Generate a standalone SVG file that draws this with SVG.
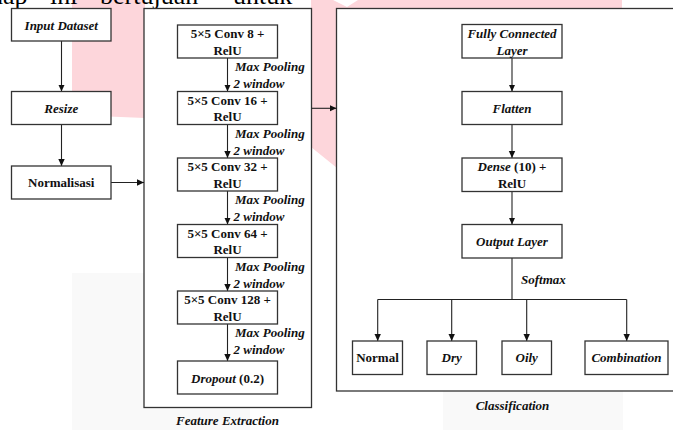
<svg xmlns="http://www.w3.org/2000/svg" width="673" height="430" viewBox="0 0 673 430">
<defs>
<marker id="arr" markerWidth="8" markerHeight="8" refX="7" refY="4" orient="auto" markerUnits="userSpaceOnUse">
<path d="M0,0.8 L7,4 L0,7.2 Z" fill="#111"/>
</marker>
<style>
.box{fill:#fff;stroke:#333;stroke-width:1.3}
.cont{fill:#fff;stroke:#333;stroke-width:1.3}
.t{font-family:"Liberation Serif","Times New Roman",Times,serif;font-size:13px;font-weight:bold;fill:#111;text-anchor:middle}
.i{font-style:italic}
.lbl{font-family:"Liberation Serif","Times New Roman",Times,serif;font-size:13px;font-weight:bold;font-style:italic;fill:#111}
.ln{fill:none;stroke:#222;stroke-width:1.1}
.top{font-family:"Liberation Serif","Times New Roman",Times,serif;font-size:26px;fill:#000}
</style>
</defs>
<rect x="0" y="0" width="673" height="430" fill="#fff"/>
<!-- background watermark -->
<g id="watermark">
<rect x="72" y="273" width="178" height="157" fill="#f9f9f9"/>
<rect x="443" y="391" width="180" height="39" fill="#f9f9f9"/>
<polygon points="72,0 622,0 622,12 337,168 311,147 145,118 72,115" fill="#fdd6db"/>
<polygon points="333,0 358,0 347,7" fill="#fff"/>
<rect x="145" y="0" width="166" height="9" fill="#fff"/>
</g>
<text class="top" y="3.5"><tspan x="-10">hap</tspan><tspan x="50">ini</tspan><tspan x="100">bertujuan</tspan><tspan x="233">untuk</tspan></text>

<!-- containers -->
<g id="feature-extraction">
<rect class="cont" x="144" y="8.5" width="167.5" height="399"/>
<text class="t i" x="227.5" y="425">Feature Extraction</text>
</g>
<g id="classification">
<rect class="cont" x="336.5" y="8.5" width="345" height="382.5"/>
<text class="t i" x="512.5" y="409.5">Classification</text>
</g>

<!-- connectors -->
<g id="connectors">
<line class="ln" x1="61.5" y1="41" x2="61.5" y2="91.5" marker-end="url(#arr)"/>
<line class="ln" x1="61.5" y1="124.5" x2="61.5" y2="166" marker-end="url(#arr)"/>
<line class="ln" x1="111" y1="182.5" x2="144" y2="182.5" marker-end="url(#arr)"/>
<line class="ln" x1="311.5" y1="108.3" x2="336.5" y2="108.3" marker-end="url(#arr)"/>
<line class="ln" x1="227.5" y1="58" x2="227.5" y2="91.5" marker-end="url(#arr)"/>
<line class="ln" x1="227.5" y1="124.5" x2="227.5" y2="158" marker-end="url(#arr)"/>
<line class="ln" x1="227.5" y1="191" x2="227.5" y2="224.5" marker-end="url(#arr)"/>
<line class="ln" x1="227.5" y1="257.5" x2="227.5" y2="291" marker-end="url(#arr)"/>
<line class="ln" x1="227.5" y1="324" x2="227.5" y2="361" marker-end="url(#arr)"/>
<line class="ln" x1="512" y1="58" x2="512" y2="91.5" marker-end="url(#arr)"/>
<line class="ln" x1="512" y1="124.5" x2="512" y2="158" marker-end="url(#arr)"/>
<line class="ln" x1="512" y1="191.5" x2="512" y2="224.5" marker-end="url(#arr)"/>
<polyline class="ln" points="512,258 512,299.5"/>
<polyline class="ln" points="377.7,299.5 626.7,299.5"/>
<line class="ln" x1="377.7" y1="299.5" x2="377.7" y2="341" marker-end="url(#arr)"/>
<line class="ln" x1="451.7" y1="299.5" x2="451.7" y2="341" marker-end="url(#arr)"/>
<line class="ln" x1="526.7" y1="299.5" x2="526.7" y2="341" marker-end="url(#arr)"/>
<line class="ln" x1="626.7" y1="299.5" x2="626.7" y2="341" marker-end="url(#arr)"/>
<text class="lbl" x="235" y="71">Max Pooling</text>
<text class="lbl" x="233.5" y="88">2 window</text>
<text class="lbl" x="235" y="137.5">Max Pooling</text>
<text class="lbl" x="233.5" y="154.5">2 window</text>
<text class="lbl" x="235" y="204">Max Pooling</text>
<text class="lbl" x="233.5" y="221">2 window</text>
<text class="lbl" x="235" y="270.5">Max Pooling</text>
<text class="lbl" x="233.5" y="287.5">2 window</text>
<text class="lbl" x="235" y="337">Max Pooling</text>
<text class="lbl" x="233.5" y="354">2 window</text>
<text class="lbl" x="521" y="283.5">Softmax</text>
</g>

<!-- left nodes -->
<g id="input-dataset">
<rect class="box" x="11.5" y="8.5" width="99.5" height="32.5"/>
<text class="t i" x="61.25" y="30">Input Dataset</text>
</g>
<g id="resize">
<rect class="box" x="11.5" y="91.5" width="99.5" height="33"/>
<text class="t i" x="61.25" y="112.5">Resize</text>
</g>
<g id="normalisasi">
<rect class="box" x="11.5" y="166" width="99.5" height="33"/>
<text class="t" x="61.25" y="187">Normalisasi</text>
</g>

<!-- feature extraction nodes -->
<g id="conv8">
<rect class="box" x="177.5" y="25" width="100" height="33"/>
<text class="t" x="227.5" y="38">5×5 Conv 8 +</text>
<text class="t" x="227.5" y="54.5">RelU</text>
</g>
<g id="conv16">
<rect class="box" x="177.5" y="91.5" width="100" height="33"/>
<text class="t" x="227.5" y="104.5">5×5 Conv 16 +</text>
<text class="t" x="227.5" y="121">RelU</text>
</g>
<g id="conv32">
<rect class="box" x="177.5" y="158" width="100" height="33"/>
<text class="t" x="227.5" y="171">5×5 Conv 32 +</text>
<text class="t" x="227.5" y="187.5">RelU</text>
</g>
<g id="conv64">
<rect class="box" x="177.5" y="224.5" width="100" height="33"/>
<text class="t" x="227.5" y="237.5">5×5 Conv 64 +</text>
<text class="t" x="227.5" y="254">RelU</text>
</g>
<g id="conv128">
<rect class="box" x="177.5" y="291" width="100" height="33"/>
<text class="t" x="227.5" y="304">5×5 Conv 128 +</text>
<text class="t" x="227.5" y="320.5">RelU</text>
</g>
<g id="dropout">
<rect class="box" x="177.5" y="361" width="100" height="33"/>
<text class="t" x="227.5" y="382.5"><tspan font-style="italic">Dropout</tspan> (0.2)</text>
</g>

<!-- classification nodes -->
<g id="fully-connected">
<rect class="box" x="462" y="24.5" width="100" height="33.5"/>
<text class="t i" x="512" y="38">Fully Connected</text>
<text class="t i" x="512" y="54.5">Layer</text>
</g>
<g id="flatten">
<rect class="box" x="462" y="91.5" width="100" height="33"/>
<text class="t i" x="512" y="112.5">Flatten</text>
</g>
<g id="dense">
<rect class="box" x="462" y="158" width="100" height="33.5"/>
<text class="t" x="512" y="171"><tspan font-style="italic">Dense</tspan> (10) +</text>
<text class="t" x="512" y="187.5">RelU</text>
</g>
<g id="output-layer">
<rect class="box" x="462" y="224.5" width="100" height="33.5"/>
<text class="t i" x="512" y="246">Output Layer</text>
</g>
<g id="normal">
<rect class="box" x="352.5" y="341" width="50" height="33.5"/>
<text class="t" x="377.5" y="362">Normal</text>
</g>
<g id="dry">
<rect class="box" x="427" y="341" width="49.5" height="33.5"/>
<text class="t i" x="451.7" y="362">Dry</text>
</g>
<g id="oily">
<rect class="box" x="502" y="341" width="49.5" height="33.5"/>
<text class="t i" x="526.7" y="362">Oily</text>
</g>
<g id="combination">
<rect class="box" x="585" y="341" width="83" height="33.5"/>
<text class="t i" x="626.5" y="362">Combination</text>
</g>
</svg>
